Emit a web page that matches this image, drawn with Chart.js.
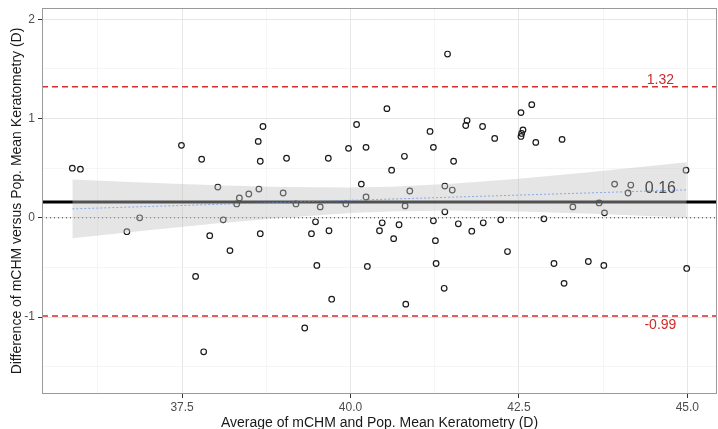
<!DOCTYPE html>
<html>
<head>
<meta charset="utf-8">
<script src="https://cdn.jsdelivr.net/npm/chart.js@4/dist/chart.umd.min.js"></script>
<style>
  html, body { margin: 0; padding: 0; background: #fff; }
  #wrap { width: 718px; height: 429px; }
</style>
</head>
<body>
<div id="wrap"><canvas id="baChart" width="718" height="429"></canvas></div>
<script>
// average of the two methods (x) and their difference (y)
const avgVals = [
  35.87, 35.99, 37.49, 37.79, 38.03, 38.31, 38.35, 38.49, 38.64, 38.63,
  38.70, 38.66, 39.00, 39.05, 39.19, 39.55, 39.67, 39.93, 39.97, 40.09,
  40.16, 40.23, 40.23, 40.54, 40.61, 40.80, 40.81, 40.88, 41.18, 41.23,
  41.40, 41.40, 41.44, 41.51, 41.53, 41.71, 41.73, 41.96, 42.14, 42.53,
  42.69, 42.56, 42.54, 42.53, 42.75, 43.14, 43.30, 43.69, 43.77, 43.92,
  44.16, 44.12, 44.98,
  36.68, 36.87, 38.11, 37.91, 38.21, 37.70, 37.82, 38.66, 39.48, 39.42,
  39.68, 39.50, 39.72, 39.32, 40.25, 40.43, 40.47, 40.64, 40.72, 40.82,
  41.23, 41.26, 41.27, 41.39, 41.60, 41.80, 41.97, 42.23, 42.33, 42.87,
  43.02, 43.17, 43.53, 43.76, 44.99
];
const diffVals = [
  0.50, 0.49, 0.73, 0.59, 0.31, 0.14, 0.20, 0.24, 0.29, 0.77,
  0.92, 0.57, 0.25, 0.60, 0.14, 0.11, 0.60, 0.14, 0.70, 0.94,
  0.34, 0.71, 0.21, 1.10, 0.48, 0.62, 0.12, 0.27, 0.87, 0.71,
  0.32, 0.06, 1.65, 0.28, 0.57, 0.93, 0.98, 0.92, 0.80, 1.06,
  1.14, 0.885, 0.85, 0.82, 0.76, 0.79, 0.11, 0.15, 0.05, 0.34,
  0.33, 0.25, 0.48,
  -0.14, 0.00, -0.02, -0.18, -0.33, -0.59, -1.35, -0.16, -0.04, -0.16,
  -0.13, -0.48, -0.82, -1.11, -0.49, -0.13, -0.05, -0.21, -0.07, -0.87,
  -0.03, -0.23, -0.46, -0.71, -0.06, -0.135, -0.05, -0.02, -0.34, -0.01,
  -0.46, -0.66, -0.44, -0.48, -0.51
];

const meanDiff = 0.16;
const upperLoA = 1.32;
const lowerLoA = -0.99;

// trend line with its confidence band
const bandX     = [35.87, 37.0, 38.0, 39.0, 40.0, 40.6, 41.5, 42.5, 43.5, 44.99];
const fitY      = [0.090, 0.114, 0.135, 0.156, 0.177, 0.189, 0.208, 0.229, 0.250, 0.282];
const bandUpper = [0.387, 0.354, 0.328, 0.311, 0.306, 0.314, 0.343, 0.394, 0.457, 0.561];
const bandLower = [-0.207, -0.126, -0.058, 0.001, 0.048, 0.064, 0.073, 0.064, 0.043, 0.003];

const xTicks = [36.25, 37.5, 38.75, 40.0, 41.25, 42.5, 43.75, 45.0];
const yTicks = [-1.5, -1, -0.5, 0, 0.5, 1, 1.5, 2];

const X_MIN = 35.42, X_MAX = 45.44;
const Y_MIN = -1.775, Y_MAX = 2.114;

const FONT = "'Liberation Sans', Arial, Helvetica, sans-serif";

const points = avgVals.map((v, i) => ({ x: v, y: diffVals[i] }));
const toXY = (xs, ys) => xs.map((v, i) => ({ x: v, y: ys[i] }));
const hLine = v => [{ x: X_MIN, y: v }, { x: X_MAX, y: v }];

const isMajorX = v => Math.abs(v / 2.5 - Math.round(v / 2.5)) < 1e-6;
const isMajorY = v => Math.abs(v - Math.round(v)) < 1e-6;

// panel border + value labels
const baDecor = {
  id: "baDecor",
  afterDatasetsDraw(chart) {
    const { ctx, chartArea: a, scales: { x, y } } = chart;
    ctx.save();
    ctx.strokeStyle = "#9a9a9a";
    ctx.lineWidth = 1;
    ctx.strokeRect(a.left + 0.5, a.top + 0.5, a.width - 1, a.height - 1);

    ctx.textAlign = "center";
    ctx.textBaseline = "middle";
    const lx = x.getPixelForValue(44.6);

    ctx.font = "14px " + FONT;
    ctx.fillStyle = "#cc2a2a";
    ctx.fillText(upperLoA.toFixed(2), lx, y.getPixelForValue(upperLoA) - 7);
    ctx.fillText(lowerLoA.toFixed(2), lx, y.getPixelForValue(lowerLoA) + 9);

    ctx.font = "16px " + FONT;
    ctx.fillStyle = "#4d4d4d";
    ctx.fillText(meanDiff.toFixed(2), lx, y.getPixelForValue(meanDiff) - 13);
    ctx.restore();
  }
};

new Chart(document.getElementById("baChart"), {
  type: "scatter",
  data: {
    datasets: [
      {
        type: "line", data: toXY(bandX, bandUpper),
        borderWidth: 0, pointRadius: 0, fill: "+1",
        backgroundColor: "rgba(192,192,192,0.42)", order: 1
      },
      {
        type: "line", data: toXY(bandX, bandLower),
        borderWidth: 0, pointRadius: 0, fill: false, order: 1
      },
      {
        type: "line", data: toXY(bandX, fitY),
        borderColor: "rgba(90,140,235,0.85)", borderWidth: 0.8,
        borderDash: [2, 2], pointRadius: 0, fill: false, order: 0
      },
      {
        type: "line", data: hLine(meanDiff),
        borderColor: "#000", borderWidth: 3, pointRadius: 0, fill: false, order: 2
      },
      {
        type: "line", data: hLine(upperLoA),
        borderColor: "#d42f2f", borderWidth: 1.5, borderDash: [6, 4],
        pointRadius: 0, fill: false, order: 2
      },
      {
        type: "line", data: hLine(lowerLoA),
        borderColor: "#d42f2f", borderWidth: 1.5, borderDash: [6, 4],
        pointRadius: 0, fill: false, order: 2
      },
      {
        type: "line", data: hLine(0),
        borderColor: "#333", borderWidth: 1, borderDash: [1, 3],
        pointRadius: 0, fill: false, order: 2
      },
      {
        data: points,
        pointStyle: "circle", pointRadius: 2.8, pointBorderWidth: 1.2,
        borderColor: "#1a1a1a", backgroundColor: "rgba(0,0,0,0)", order: 3
      }
    ]
  },
  options: {
    responsive: false,
    animation: false,
    devicePixelRatio: 1,
    layout: { autoPadding: false, padding: { top: 8, right: 1, left: 0, bottom: 0 } },
    plugins: { legend: { display: false }, tooltip: { enabled: false } },
    scales: {
      x: {
        type: "linear", min: X_MIN, max: X_MAX,
        afterBuildTicks: s => { s.ticks = xTicks.map(v => ({ value: v })); },
        afterFit: s => { s.height = 35; s.paddingLeft = 0; s.paddingRight = 0; },
        border: { display: false },
        grid: {
          color: c => isMajorX(c.tick.value) ? "#e6e6e6" : "#f1f1f1",
          lineWidth: c => isMajorX(c.tick.value) ? 1 : 0.7,
          tickColor: c => isMajorX(c.tick.value) ? "#333" : "rgba(0,0,0,0)",
          tickLength: 4
        },
        ticks: {
          autoSkip: false, maxRotation: 0, padding: 2,
          color: "#4d4d4d", font: { family: FONT, size: 12 },
          callback: v => isMajorX(v) ? v.toFixed(1) : ""
        },
        title: {
          display: true, text: "Average of mCHM and Pop. Mean Keratometry (D)",
          color: "#1a1a1a", font: { family: FONT, size: 14 },
          padding: { top: 0, bottom: -3 }
        }
      },
      y: {
        type: "linear", min: Y_MIN, max: Y_MAX,
        afterBuildTicks: s => { s.ticks = yTicks.map(v => ({ value: v })); },
        afterFit: s => { s.width = 42; s.paddingTop = 0; s.paddingBottom = 0; },
        border: { display: false },
        grid: {
          color: c => isMajorY(c.tick.value) ? "#e6e6e6" : "#f1f1f1",
          lineWidth: c => isMajorY(c.tick.value) ? 1 : 0.7,
          tickColor: c => isMajorY(c.tick.value) ? "#333" : "rgba(0,0,0,0)",
          tickLength: 4
        },
        ticks: {
          autoSkip: false, padding: 3,
          color: "#4d4d4d", font: { family: FONT, size: 12 },
          callback: v => isMajorY(v) ? String(v) : ""
        },
        title: {
          display: true, text: "Difference of mCHM versus Pop. Mean Keratometry (D)",
          color: "#1a1a1a", font: { family: FONT, size: 14 },
          padding: { top: 9, bottom: 0 }
        }
      }
    }
  },
  plugins: [baDecor]
});
</script>
</body>
</html>
